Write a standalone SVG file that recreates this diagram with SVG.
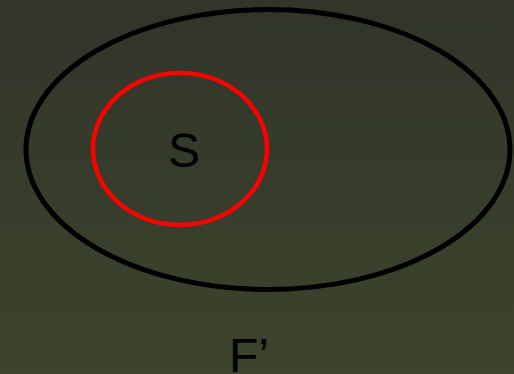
<svg xmlns="http://www.w3.org/2000/svg" width="514" height="374" viewBox="0 0 514 374">
<defs>
<linearGradient id="bg" x1="0" y1="0" x2="0" y2="1">
<stop offset="0" stop-color="#31352a"/>
<stop offset="1" stop-color="#3c442b"/>
</linearGradient>
</defs>
<style>
.lbl{font-family:"Liberation Sans",Arial,sans-serif;font-size:48px;fill:#000}
</style>
<rect width="514" height="374" fill="url(#bg)"/>
<g id="outer">
<ellipse cx="268" cy="149.5" rx="242" ry="140" fill="none" stroke="#000" stroke-width="5"/>
</g>
<g id="inner">
<ellipse cx="180" cy="149" rx="87" ry="76" fill="none" stroke="#ff0000" stroke-width="4.5"/>
<text class="lbl" x="184" y="167" text-anchor="middle">S</text>
</g>
<g id="connectors"/>
<g id="label">
<text class="lbl" x="229" y="372">F’</text>
</g>
</svg>
